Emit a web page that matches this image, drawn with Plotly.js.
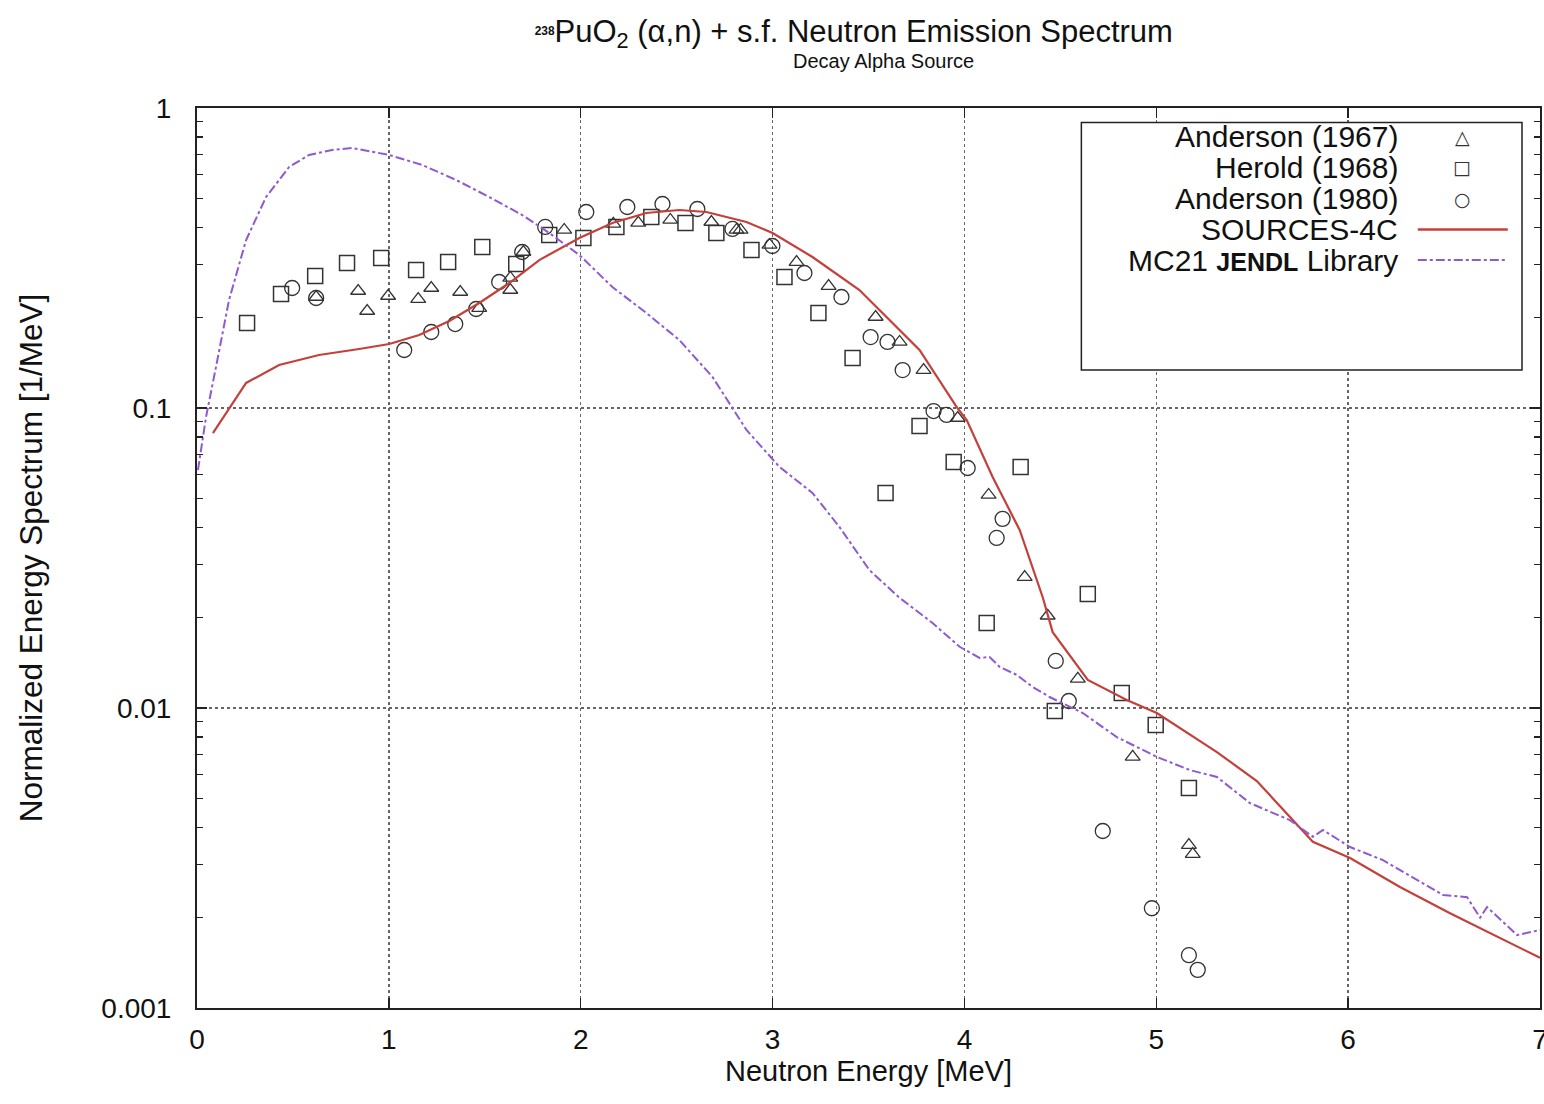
<!DOCTYPE html>
<html>
<head>
<meta charset="utf-8">
<script src="https://cdn.plot.ly/plotly-3.0.1.min.js"></script>
<style>html,body{margin:0;padding:0;background:#fff;}#chart{width:1544px;height:1104px;}</style>
</head>
<body>
<div id="chart"></div>
<script>
// ---- Data ----
const seriesNames = ["Anderson (1967)", "Herold (1968)", "Anderson (1980)", "SOURCES-4C", "MC21 <b style='font-size:25px'>JENDL</b> Library"];

const anderson1967E = [0.621,0.840,0.887,0.996,1.153,1.221,1.372,1.471,1.633,1.633,1.701,1.914,2.170,2.300,2.467,2.681,2.812,2.833,2.984,3.125,3.292,3.537,3.662,3.787,3.965,4.126,4.314,4.434,4.591,4.877,5.170,5.190];
const anderson1967S = [0.2344,0.2455,0.2105,0.2362,0.2308,0.2512,0.2436,0.2154,0.2474,0.2713,0.3311,0.3922,0.4107,0.4139,0.4234,0.4169,0.3922,0.3922,0.3495,0.3066,0.2550,0.2011,0.1660,0.1338,0.0926,0.0513,0.0273,0.0203,0.0125,0.00687,0.00349,0.00326];

const herold1968E = [0.261,0.438,0.616,0.782,0.960,1.142,1.309,1.487,1.664,1.836,2.014,2.186,2.368,2.546,2.707,2.890,3.062,3.239,3.417,3.589,3.766,3.944,4.116,4.293,4.471,4.643,4.820,4.997,5.170];
const herold1968S = [0.1920,0.2399,0.2754,0.3042,0.3162,0.2884,0.3066,0.3440,0.3020,0.3774,0.3686,0.4013,0.4332,0.4139,0.3831,0.3362,0.2733,0.2074,0.1468,0.0521,0.0871,0.0661,0.0192,0.0636,0.00977,0.0240,0.01122,0.00878,0.00541];

const anderson1980E = [0.496,0.621,1.080,1.221,1.346,1.455,1.575,1.695,1.815,2.029,2.243,2.426,2.608,2.791,2.999,3.166,3.359,3.511,3.599,3.678,3.839,3.907,4.017,4.199,4.168,4.476,4.544,4.721,4.977,5.170,5.216];
const anderson1980S = [0.2512,0.2326,0.1561,0.1792,0.1905,0.2138,0.2630,0.3311,0.4013,0.4501,0.4677,0.4786,0.4606,0.3952,0.3467,0.2818,0.2344,0.1724,0.1660,0.1338,0.0977,0.0948,0.0631,0.0427,0.0369,0.01435,0.01055,0.00389,0.00215,0.00150,0.00134];

const sources4cE = [0.083,0.256,0.428,0.636,0.845,1.002,1.158,1.315,1.471,1.628,1.784,1.993,2.165,2.342,2.514,2.655,2.864,3.000,3.208,3.453,3.766,3.959,4.012,4.147,4.288,4.408,4.460,4.643,4.846,5.003,5.316,5.524,5.816,6.010,6.270,6.531,7.000];
const sources4cS = [0.0825,0.1212,0.1391,0.1502,0.1573,0.1634,0.1751,0.1950,0.2239,0.2610,0.3113,0.3686,0.4139,0.4467,0.4571,0.4501,0.4169,0.3831,0.3187,0.2474,0.1561,0.1008,0.0912,0.0589,0.0392,0.0234,0.0179,0.0124,0.01063,0.00962,0.00713,0.00571,0.00358,0.00316,0.00253,0.00207,0.00147];

const mc21E = [0.005,0.047,0.099,0.167,0.256,0.360,0.480,0.584,0.704,0.809,1.002,1.174,1.351,1.523,1.695,1.836,1.993,2.165,2.342,2.514,2.687,2.864,3.036,3.208,3.349,3.505,3.662,3.834,3.975,4.079,4.131,4.184,4.272,4.356,4.444,4.617,4.794,5.003,5.175,5.316,5.488,5.696,5.816,5.869,6.010,6.182,6.495,6.620,6.688,6.724,6.881,7.000];
const mc21S = [0.0621,0.0933,0.1370,0.2291,0.3631,0.5050,0.6358,0.6973,0.7244,0.7356,0.6973,0.6457,0.5754,0.5050,0.4398,0.3831,0.3236,0.2531,0.2074,0.1685,0.1269,0.0845,0.0636,0.0521,0.0401,0.0288,0.0233,0.0192,0.0160,0.01468,0.01479,0.0137,0.0129,0.01175,0.01088,0.00962,0.0080,0.00687,0.00621,0.00589,0.00482,0.00423,0.00372,0.00392,0.00344,0.00311,0.00238,0.00234,0.00200,0.00217,0.00175,0.00182];

const xTickVals = [0,1,2,3,4,5,6,7];
const yTickVals = [0.001,0.01,0.1,1];
const yTickText = ["0.001","0.01","0.1","1"];
const yMinorTickVals = [0.002,0.003,0.004,0.005,0.006,0.007,0.008,0.009,
                        0.02,0.03,0.04,0.05,0.06,0.07,0.08,0.09,
                        0.2,0.3,0.4,0.5,0.6,0.7,0.8,0.9];

// ---- Styles ----
const fontFam = "Liberation Sans, Arial, Helvetica, sans-serif";
const markColor = "#333333";
const redColor = "#c4403a";
const purpleColor = "#8f5ad0";

const traces = [
  {x: anderson1967E, y: anderson1967S, name: seriesNames[0], mode: "markers", type: "scatter",
   marker: {symbol: "triangle-up-open", size: 13, color: markColor, line: {width: 1.3}}},
  {x: herold1968E, y: herold1968S, name: seriesNames[1], mode: "markers", type: "scatter",
   marker: {symbol: "square-open", size: 15, color: markColor, line: {width: 1.5}}},
  {x: anderson1980E, y: anderson1980S, name: seriesNames[2], mode: "markers", type: "scatter",
   marker: {symbol: "circle-open", size: 15, color: markColor, line: {width: 1.3}}},
  {x: sources4cE, y: sources4cS, name: seriesNames[3], mode: "lines", type: "scatter",
   line: {color: redColor, width: 2.2}},
  {x: mc21E, y: mc21S, name: seriesNames[4], mode: "lines", type: "scatter",
   line: {color: purpleColor, width: 2, dash: "dashdot"}}
];
traces.forEach(t => t.showlegend = false);

// ---- Custom legend (text right-aligned, sample on the right, as in the reference) ----
const legX0 = 0.6585, legX1 = 0.9866, legY1 = 0.984, legY0 = 0.709;
const rowY = [0.968, 0.934, 0.899, 0.865, 0.831];
const textX = 0.896, sampleX = 0.942;
const annotations = [];
const shapes = [
  {type: "rect", xref: "paper", yref: "paper", x0: legX0, x1: legX1, y0: legY0, y1: legY1,
   line: {color: "#222", width: 1.5}, fillcolor: "#fff", layer: "above"}
];
seriesNames.forEach((n, i) => {
  annotations.push({xref: "paper", yref: "paper", x: textX, y: rowY[i], xanchor: "right", yanchor: "middle",
    text: n, showarrow: false, font: {family: fontFam, size: 30, color: "#111"}});
});
const legendSymbols = ["△", "□", "○"];
legendSymbols.forEach((s, i) => {
  annotations.push({xref: "paper", yref: "paper", x: sampleX, y: rowY[i], xanchor: "center", yanchor: "middle",
    text: s, showarrow: false, font: {family: "DejaVu Sans, sans-serif", size: 19, color: "#333"}});
});
shapes.push({type: "line", xref: "paper", yref: "paper", x0: 0.909, x1: 0.976, y0: rowY[3], y1: rowY[3],
  line: {color: redColor, width: 2.5}, layer: "above"});
shapes.push({type: "line", xref: "paper", yref: "paper", x0: 0.909, x1: 0.976, y0: rowY[4], y1: rowY[4],
  line: {color: purpleColor, width: 2, dash: "dashdot"}, layer: "above"});

// subtitle
annotations.push({xref: "paper", yref: "paper", x: 0.5115, y: 1.052, xanchor: "center", yanchor: "middle",
  text: "Decay Alpha Source", showarrow: false, font: {family: fontFam, size: 20, color: "#111"}});

const tickFont = {family: fontFam, size: 28, color: "#111"};

const layout = {
  width: 1544, height: 1104,
  margin: {l: 197, r: 4, t: 108, b: 96},
  paper_bgcolor: "#fff", plot_bgcolor: "#fff",
  title: {
    text: "<b style='font-size:17px'><sup>238</sup></b>PuO<sub>2</sub> (α,n) + s.f. Neutron Emission Spectrum",
    font: {family: fontFam, size: 31, color: "#111"},
    x: 0.553, xref: "container", xanchor: "center",
    y: 0.972, yref: "container", yanchor: "middle"
  },
  xaxis: {
    range: [0, 7], tickvals: xTickVals, ticks: "inside", ticklen: 10, tickwidth: 1.5, tickcolor: "#222",
    ticklabelstandoff: 5, ticklabeloverflow: "allow",
    showline: true, linecolor: "#222", linewidth: 2, mirror: "ticks",
    showgrid: true, gridcolor: "#666", griddash: "dot", gridwidth: 1.3, zeroline: false,
    tickfont: tickFont,
    title: {text: "Neutron Energy [MeV]", font: {family: fontFam, size: 29, color: "#111"}, standoff: 3}
  },
  yaxis: {
    type: "log", range: [-3, 0], tickvals: yTickVals, ticktext: yTickText,
    ticks: "inside", ticklen: 10, tickwidth: 1.5, tickcolor: "#222",
    ticklabelstandoff: 18,
    minor: {tickvals: yMinorTickVals, ticks: "inside", ticklen: 6, tickcolor: "#222", tickwidth: 1.2, showgrid: false},
    showline: true, linecolor: "#222", linewidth: 2, mirror: "ticks",
    showgrid: true, gridcolor: "#666", griddash: "dot", gridwidth: 1.3, zeroline: false,
    tickfont: tickFont,
    title: {text: "Normalized Energy Spectrum [1/MeV]", font: {family: fontFam, size: 31.5, color: "#111"}, standoff: 49}
  },
  annotations: annotations,
  shapes: shapes,
  showlegend: false
};

Plotly.newPlot("chart", traces, layout, {displayModeBar: false, staticPlot: true});
</script>
</body>
</html>
